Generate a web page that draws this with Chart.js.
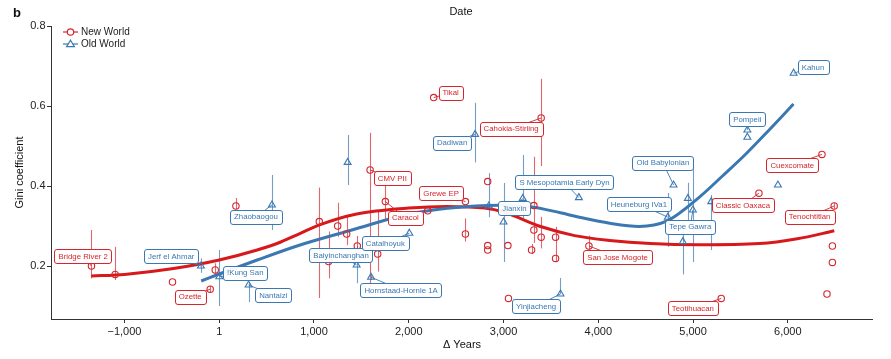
<!DOCTYPE html>
<html><head><meta charset="utf-8">
<script src="https://cdn.jsdelivr.net/npm/chart.js@4.4.1/dist/chart.umd.min.js"></script>
<style>html,body{margin:0;padding:0;background:#fff}canvas{display:block}</style>
</head><body>
<canvas id="c" width="891" height="359"></canvas>
<script>
// ---- tick labels ----
const xTicks = [-1000, 1, 1000, 2000, 3000, 4000, 5000, 6000];
const xTickLabels = ['\u22121,000', '1', '1,000', '2,000', '3,000', '4,000', '5,000', '6,000'];
const yTicks = [0.2, 0.4, 0.6, 0.8];
const yTickLabels = ['0.2', '0.4', '0.6', '0.8'];

// ---- New World sites ----
const newX  = [-1348, -1098, -493, -95, -42, 176, 1056, 1154, 1250, 1345, 1457, 1592, 1672, 1753, 2200, 2263, 2598, 2598, 2833, 2833, 2833, 3046, 3052, 3320, 3320, 3296, 3397, 3397, 3549, 3549, 3901, 5297, 5695, 6360, 6489, 6470, 6470, 6413];
const newY  = [0.200, 0.179, 0.160, 0.142, 0.190, 0.350, 0.311, 0.211, 0.300, 0.280, 0.250, 0.440, 0.230, 0.361, 0.338, 0.621, 0.361, 0.280, 0.411, 0.251, 0.240, 0.251, 0.119, 0.351, 0.290, 0.240, 0.570, 0.272, 0.272, 0.219, 0.250, 0.119, 0.382, 0.479, 0.350, 0.250, 0.209, 0.130];
const newLo = [0.169, 0.165, null, 0.135, 0.179, 0.342, 0.120, 0.169, 0.273, 0.252, 0.240, 0.128, 0.186, 0.315, null, null, null, 0.261, null, null, null, null, null, 0.258, null, 0.230, 0.450, 0.244, 0.210, null, 0.228, null, null, null, 0.343, null, null, null];
const newHi = [0.290, 0.248, null, 0.150, 0.207, 0.370, 0.396, 0.286, 0.358, 0.323, 0.275, 0.533, 0.336, 0.433, null, null, null, 0.319, null, null, null, null, null, 0.473, null, 0.255, 0.668, 0.323, 0.298, null, 0.276, null, null, null, 0.357, null, null, null];

// ---- Old World sites ----
const oldX  = [-193, 0, 310, 556, 1355, 1450, 1602, 2006, 2700, 2844, 3000, 3203, 3795, 3601, 4794, 4734, 4945, 4998, 4892, 5192, 5573, 5573, 5895, 6061];
const oldY  = [0.200, 0.173, 0.1525, 0.3525, 0.459, 0.2025, 0.172, 0.282, 0.529, 0.350, 0.310, 0.369, 0.371, 0.130, 0.4025, 0.322, 0.369, 0.340, 0.261, 0.361, 0.540, 0.522, 0.4025, 0.682];
const oldLo = [0.183, 0.100, 0.110, 0.290, 0.4025, 0.157, 0.165, null, 0.459, 0.322, 0.210, 0.320, null, 0.130, null, 0.248, 0.315, 0.210, 0.179, 0.240, null, null, null, null];
const oldHi = [0.219, 0.240, 0.158, 0.4275, 0.5275, 0.250, 0.180, null, 0.608, 0.432, 0.4075, 0.4775, null, 0.170, null, 0.3825, 0.408, 0.457, 0.300, 0.3775, null, null, null, null];

// ---- smoothed trends ----
const newCurveX = [-1350, -1000, -500, 0, 400, 650, 850, 1050, 1450, 2000, 2400, 2800, 3000, 3400, 3750, 4120, 4550, 5070, 5700, 6100, 6490];
const newCurveY = [0.175, 0.179, 0.193, 0.215, 0.240, 0.260, 0.281, 0.302, 0.330, 0.345, 0.349, 0.345, 0.335, 0.298, 0.276, 0.264, 0.256, 0.253, 0.256, 0.268, 0.288];
const oldCurveX = [-190, 0, 400, 845, 1400, 2000, 2320, 2700, 2960, 3270, 3600, 3800, 4120, 4430, 4720, 5070, 5310, 5565, 5810, 6060];
const oldCurveY = [0.1625, 0.180, 0.215, 0.252, 0.290, 0.330, 0.342, 0.350, 0.352, 0.349, 0.333, 0.322, 0.307, 0.299, 0.312, 0.373, 0.425, 0.482, 0.542, 0.605];

// ---- site labels: text, index of the site, label centre (data units) ----
const newLabelText = ['Bridge River 2', 'Ozette', 'CMV PII', 'Caracol', 'Grewe EP', 'Tikal', 'Cahokia-Stirling', 'San Jose Mogote', 'Teotihuacan', 'Classic Oaxaca', 'Cuexcomate', 'Tenochtitlan'];
const newLabelSite = [0, 3, 11, 13, 16, 15, 26, 30, 31, 32, 33, 34];
const newLabelX = [-1436, -306, 1827, 1964, 2341, 2442, 3080, 4203, 4998, 5526, 6047, 6230];
const newLabelY = [0.225, 0.123, 0.420, 0.321, 0.382, 0.633, 0.543, 0.2225, 0.094, 0.3525, 0.4525, 0.323];

const oldLabelText = ['Jerf el Ahmar', '!Kung San', 'Nantaizi', 'Zhaobaogou', 'Baiyinchanghan', 'Catalhoyuk', 'Hornstaad-Hornle 1A', 'Dadiwan', 'Jianxin', 'S Mesopotamia Early Dyn', 'Yinjiacheng', 'Old Babylonian', 'Heuneburg IVa1', 'Tepe Gawra', 'Pompeii', 'Kahun'];
const oldLabelSite = [0, 1, 2, 3, 5, 7, 6, 8, 11, 12, 13, 14, 15, 17, 20, 23];
const oldLabelX = [-507, 275, 570, 388, 1285, 1753, 1919, 2457, 3115, 3643, 3344, 4681, 4428, 4970, 5572, 6265];
const oldLabelY = [0.225, 0.183, 0.1275, 0.323, 0.2275, 0.257, 0.140, 0.508, 0.344, 0.409, 0.100, 0.458, 0.355, 0.298, 0.567, 0.697];

const RED = '#d3262d', BLUE = '#3b78b1';
const RED_ERR = 'rgba(214,45,55,0.72)', BLUE_ERR = 'rgba(60,120,178,0.72)';
const FONT = "'Liberation Sans', Arial, Helvetica, sans-serif";

const zip = (xs, ys) => xs.map((x, i) => ({x: x, y: ys[i]}));

const errorBars = {
  id: 'errorBars',
  beforeDatasetsDraw(chart) {
    const {ctx, scales: {x, y}} = chart;
    ctx.save();
    ctx.lineWidth = 1.1;
    const draw = (xs, lo, hi, col) => {
      ctx.strokeStyle = col;
      xs.forEach((v, i) => {
        if (lo[i] == null) return;
        const px = Math.round(x.getPixelForValue(v)) + 0.5;
        ctx.beginPath();
        ctx.moveTo(px, y.getPixelForValue(lo[i]));
        ctx.lineTo(px, y.getPixelForValue(hi[i]));
        ctx.stroke();
      });
    };
    draw(oldX, oldLo, oldHi, BLUE_ERR);
    draw(newX, newLo, newHi, RED_ERR);
    ctx.restore();
  }
};

function roundRect(ctx, x, y, w, h, r) {
  ctx.beginPath();
  ctx.moveTo(x + r, y);
  ctx.lineTo(x + w - r, y); ctx.quadraticCurveTo(x + w, y, x + w, y + r);
  ctx.lineTo(x + w, y + h - r); ctx.quadraticCurveTo(x + w, y + h, x + w - r, y + h);
  ctx.lineTo(x + r, y + h); ctx.quadraticCurveTo(x, y + h, x, y + h - r);
  ctx.lineTo(x, y + r); ctx.quadraticCurveTo(x, y, x + r, y);
  ctx.closePath();
}

const siteLabels = {
  id: 'siteLabels',
  afterDatasetsDraw(chart) {
    const {ctx, scales: {x, y}} = chart;
    ctx.save();
    ctx.font = '7.8px ' + FONT;
    ctx.textAlign = 'center';
    ctx.textBaseline = 'middle';
    const draw = (texts, sites, lx, ly, sx, sy, col) => {
      texts.forEach((t, i) => {
        const bx = x.getPixelForValue(lx[i]), by = y.getPixelForValue(ly[i]);
        const px = x.getPixelForValue(sx[sites[i]]), py = y.getPixelForValue(sy[sites[i]]);
        const w = ctx.measureText(t).width + 8, h = 14;
        ctx.strokeStyle = col; ctx.lineWidth = 0.9;
        ctx.beginPath(); ctx.moveTo(px, py); ctx.lineTo(bx, by); ctx.stroke();
        roundRect(ctx, Math.round(bx - w / 2) + 0.5, Math.round(by - h / 2) + 0.5, Math.round(w), h, 2.5);
        ctx.fillStyle = 'rgba(255,255,255,0.95)'; ctx.fill();
        ctx.lineWidth = 1; ctx.stroke();
        ctx.fillStyle = col;
        ctx.fillText(t, bx, by + 0.5);
      });
    };
    draw(oldLabelText, oldLabelSite, oldLabelX, oldLabelY, oldX, oldY, BLUE);
    draw(newLabelText, newLabelSite, newLabelX, newLabelY, newX, newY, RED);
    ctx.restore();
  }
};

const decorations = {
  id: 'decorations',
  afterDraw(chart) {
    const {ctx, chartArea: ca} = chart;
    ctx.save();
    ctx.fillStyle = '#111';
    ctx.textBaseline = 'middle';
    ctx.font = 'bold 13px ' + FONT;
    ctx.textAlign = 'left';
    ctx.fillText('b', 13, 13);
    ctx.font = '11px ' + FONT;
    ctx.textAlign = 'center';
    ctx.fillText('Date', 461, 12);
    ctx.fillText('\u0394 Years', (ca.left + ca.right) / 2 + 0.5, 345);
    ctx.save();
    ctx.translate(20, (ca.top + ca.bottom) / 2);
    ctx.rotate(-Math.PI / 2);
    ctx.fillText('Gini coefficient', 0, 0);
    ctx.restore();
    // legend
    const items = [['New World', RED, 'circle', 32], ['Old World', BLUE, 'triangle', 44]];
    ctx.font = '10px ' + FONT;
    ctx.textAlign = 'left';
    items.forEach(([txt, col, shape, ly]) => {
      ctx.strokeStyle = col; ctx.lineWidth = 1.2;
      ctx.beginPath(); ctx.moveTo(63, ly); ctx.lineTo(78, ly); ctx.stroke();
      ctx.beginPath();
      if (shape === 'circle') { ctx.arc(70.5, ly, 3.2, 0, Math.PI * 2); }
      else { ctx.moveTo(70.5, ly - 3.8); ctx.lineTo(74.4, ly + 2.7); ctx.lineTo(66.6, ly + 2.7); ctx.closePath(); }
      ctx.fillStyle = '#fff'; ctx.fill(); ctx.stroke();
      ctx.fillStyle = '#222';
      ctx.fillText(txt, 81, ly + 0.5);
    });
    ctx.restore();
  }
};

new Chart(document.getElementById('c'), {
  type: 'scatter',
  data: {
    datasets: [
      {label: 'New World', data: zip(newX, newY), pointStyle: 'circle', pointRadius: 3.2, borderColor: RED, borderWidth: 1.1, backgroundColor: 'rgba(0,0,0,0)', order: 0},
      {label: 'Old World', data: zip(oldX, oldY), pointStyle: 'triangle', pointRadius: 4, borderColor: BLUE, borderWidth: 1.1, backgroundColor: 'rgba(0,0,0,0)', order: 0},
      {type: 'line', label: 'Old World trend', data: zip(oldCurveX, oldCurveY), borderColor: BLUE, borderWidth: 3, pointRadius: 0, cubicInterpolationMode: 'monotone', fill: false, order: 1},
      {type: 'line', label: 'New World trend', data: zip(newCurveX, newCurveY), borderColor: '#d7191c', borderWidth: 3, pointRadius: 0, cubicInterpolationMode: 'monotone', fill: false, order: 1}
    ]
  },
  options: {
    responsive: false,
    animation: false,
    devicePixelRatio: 1,
    layout: {padding: {top: 26, right: 19, left: 0, bottom: 0}},
    plugins: {legend: {display: false}, tooltip: {enabled: false}, title: {display: false}},
    scales: {
      x: {
        type: 'linear', min: -1775, max: 6888,
        afterBuildTicks: s => { s.ticks = xTicks.map(v => ({value: v})); },
        afterFit: s => { s.height = 40; },
        ticks: {callback: (v, i) => xTickLabels[i], font: {family: FONT, size: 11}, color: '#222', padding: 2, maxRotation: 0, autoSkip: false},
        grid: {drawOnChartArea: false, drawTicks: true, tickLength: 4, color: '#333', lineWidth: 1},
        border: {display: true, color: '#333', width: 1}
      },
      y: {
        type: 'linear', min: 0.0675, max: 0.8,
        afterBuildTicks: s => { s.ticks = yTicks.map(v => ({value: v})); },
        afterFit: s => { s.width = 51; },
        ticks: {callback: (v, i) => yTickLabels[i], font: {family: FONT, size: 11}, color: '#222', padding: 1.5, autoSkip: false},
        grid: {drawOnChartArea: false, drawTicks: true, tickLength: 4, color: '#333', lineWidth: 1},
        border: {display: true, color: '#333', width: 1}
      }
    }
  },
  plugins: [errorBars, siteLabels, decorations]
});
</script>
</body></html>
